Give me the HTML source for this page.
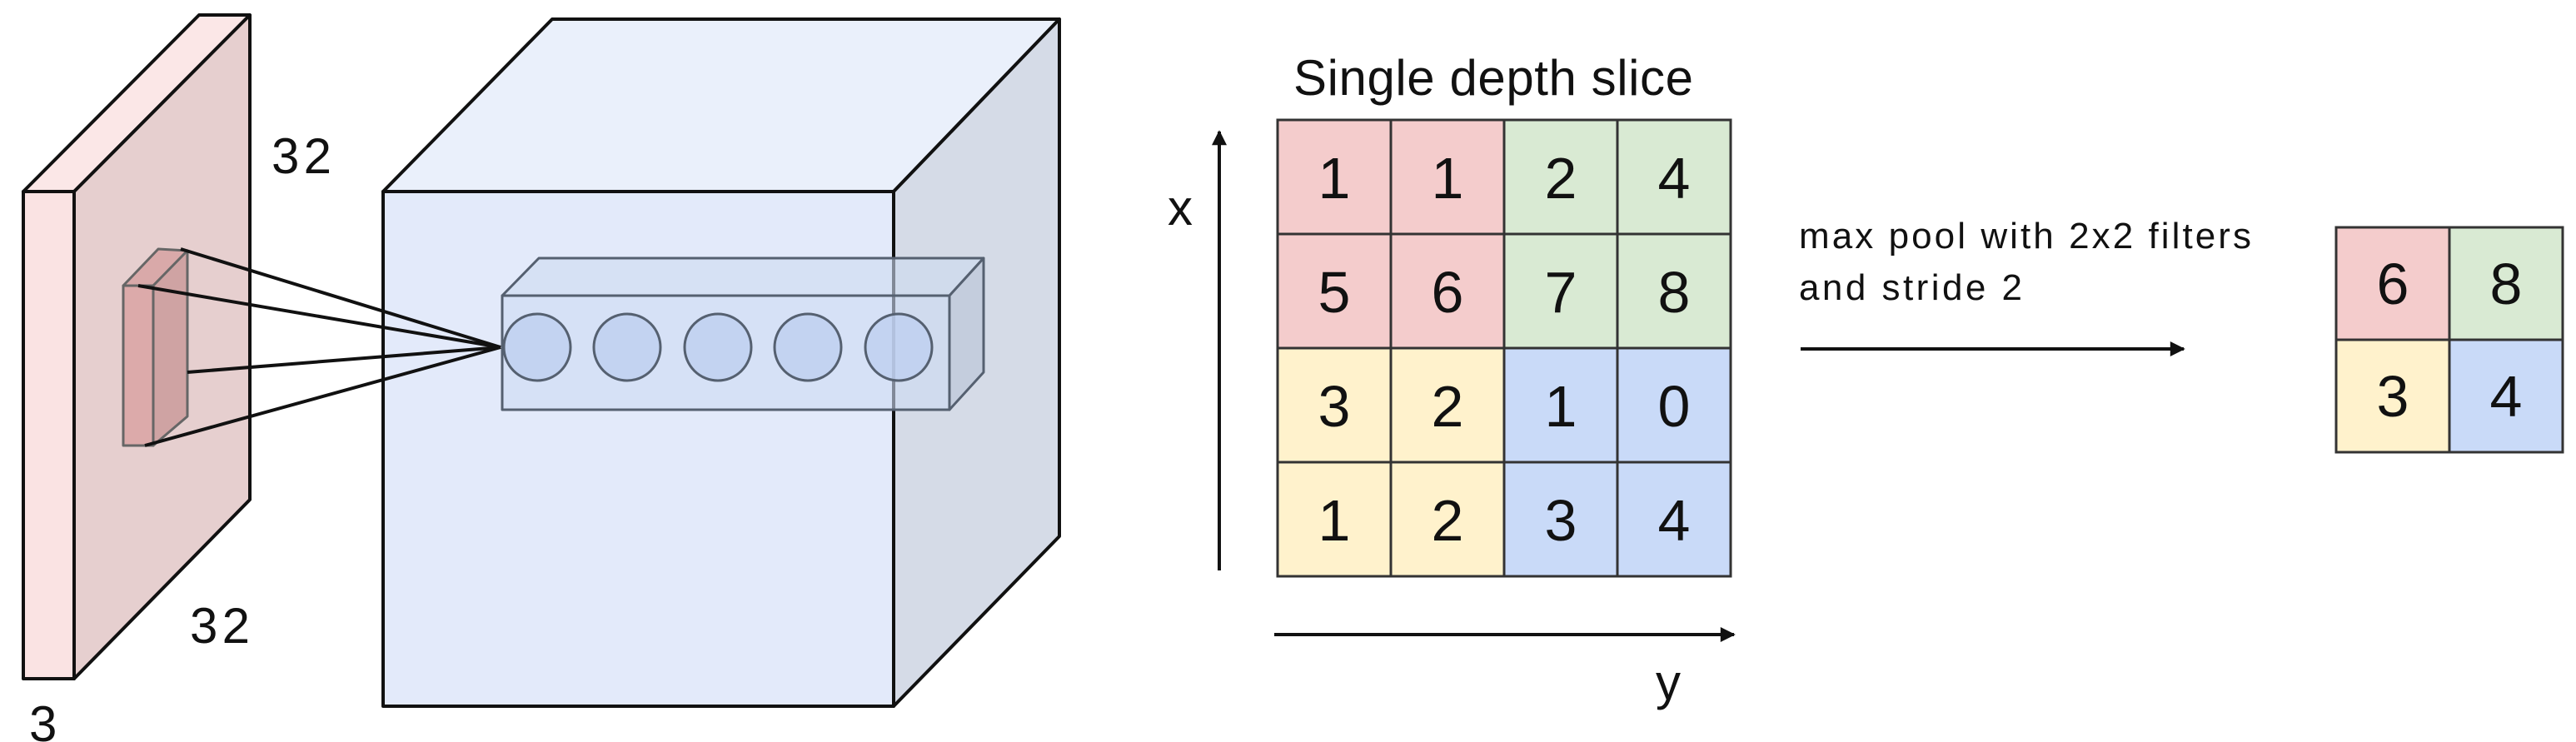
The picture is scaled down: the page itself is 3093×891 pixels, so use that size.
<!DOCTYPE html>
<html><head><style>html,body{margin:0;padding:0;background:#fff;}svg{display:block}</style></head>
<body>
<svg width="3093" height="891" viewBox="0 0 3093 891" xmlns="http://www.w3.org/2000/svg" font-family="Liberation Sans, sans-serif">
<defs>
<marker id="ah2" viewBox="0 0 10 10" markerWidth="22" markerHeight="18" refX="9" refY="5" orient="auto" markerUnits="userSpaceOnUse"><path d="M0,0 L10,5 L0,10 z" fill="#111"/></marker></defs>
<g stroke="#111" stroke-width="4" stroke-linejoin="round">
<polygon points="28,230 89,230 300,18 239,18" fill="#fbe7e7"/>
<polygon points="89,230 300,18 300,600 89,815" fill="#e6cfcf"/>
<polygon points="28,230 89,230 89,815 28,815" fill="#fae3e3"/>
<polygon points="148,343 184,343 225,301 190,299" fill="#d9a9a9" stroke-width="3" stroke="#666"/>
<polygon points="184,343 225,301 225,500 184,535" fill="#cfa3a3" stroke-width="3" stroke="#666"/>
<polygon points="148,343 184,343 184,535 148,535" fill="#dcaaaa" stroke-width="3" stroke="#666"/>
<polygon points="460,230 1073,230 1272,23 663,23" fill="#eaf0fb"/>
<polygon points="1073,230 1272,23 1272,644 1073,848" fill="#d5dbe7"/>
<polygon points="460,230 1073,230 1073,848 460,848" fill="#e3eafa"/>
<g stroke-width="4">
<line x1="217" y1="299" x2="601" y2="417"/>
<line x1="166" y1="343" x2="601" y2="417"/>
<line x1="225" y1="447" x2="601" y2="417"/>
<line x1="174" y1="535" x2="601" y2="417"/>
</g>
<g stroke="#556070" stroke-width="3">
<polygon points="603,355 1140,355 1181,310 647,310" fill="rgba(205,218,240,0.6)"/>
<polygon points="1140,355 1181,310 1181,447 1140,492" fill="rgba(185,195,215,0.6)"/>
<polygon points="603,355 1140,355 1140,492 603,492" fill="rgba(205,218,243,0.6)"/>
<g fill="rgba(190,208,240,0.8)">
<circle cx="645" cy="417" r="40"/><circle cx="753" cy="417" r="40"/><circle cx="862" cy="417" r="40"/><circle cx="970" cy="417" r="40"/><circle cx="1079" cy="417" r="40"/>
</g>
</g>
</g>
<g font-size="60" fill="#111">
<text x="326" y="208" textLength="72">32</text>
<text x="228" y="772" textLength="72">32</text>
<text x="35" y="890">3</text>
</g>
<g stroke="#333" stroke-width="3">
<rect x="1534" y="144" width="272" height="274" fill="#f4cccc"/>
<rect x="1806" y="144" width="272" height="274" fill="#d9ead3"/>
<rect x="1534" y="418" width="272" height="274" fill="#fff2cc"/>
<rect x="1806" y="418" width="272" height="274" fill="#c9daf8"/>
<line x1="1670" y1="144" x2="1670" y2="692"/><line x1="1942" y1="144" x2="1942" y2="692"/>
<line x1="1534" y1="281" x2="2078" y2="281"/><line x1="1534" y1="555" x2="2078" y2="555"/>
<rect x="2805" y="273" width="136" height="135" fill="#f4cccc"/>
<rect x="2941" y="273" width="136" height="135" fill="#d9ead3"/>
<rect x="2805" y="408" width="136" height="135" fill="#fff2cc"/>
<rect x="2941" y="408" width="136" height="135" fill="#c9daf8"/>
</g>
<g font-size="70" fill="#111" text-anchor="middle">
<text x="1602" y="238">1</text><text x="1738" y="238">1</text><text x="1874" y="238">2</text><text x="2010" y="238">4</text>
<text x="1602" y="375">5</text><text x="1738" y="375">6</text><text x="1874" y="375">7</text><text x="2010" y="375">8</text>
<text x="1602" y="512">3</text><text x="1738" y="512">2</text><text x="1874" y="512">1</text><text x="2010" y="512">0</text>
<text x="1602" y="649">1</text><text x="1738" y="649">2</text><text x="1874" y="649">3</text><text x="2010" y="649">4</text>
<text x="2873" y="365">6</text><text x="3009" y="365">8</text>
<text x="2873" y="500">3</text><text x="3009" y="500">4</text>
</g>
<text x="1553" y="114" font-size="60" fill="#111" textLength="480">Single depth slice</text>
<text x="1402" y="270" font-size="60" fill="#111">x</text>
<text x="1988" y="840" font-size="60" fill="#111">y</text>
<text x="2160" y="298" font-size="44" fill="#111" textLength="543">max pool with 2x2 filters</text>
<text x="2160" y="360" font-size="44" fill="#111" textLength="268">and stride 2</text>
<g stroke="#111" stroke-width="4">
<line x1="1464" y1="685" x2="1464" y2="158" marker-end="url(#ah2)"/>
<line x1="1530" y1="762" x2="2082" y2="762" marker-end="url(#ah2)"/>
<line x1="2162" y1="419" x2="2622" y2="419" marker-end="url(#ah2)"/>
</g>
</svg>
</body></html>
